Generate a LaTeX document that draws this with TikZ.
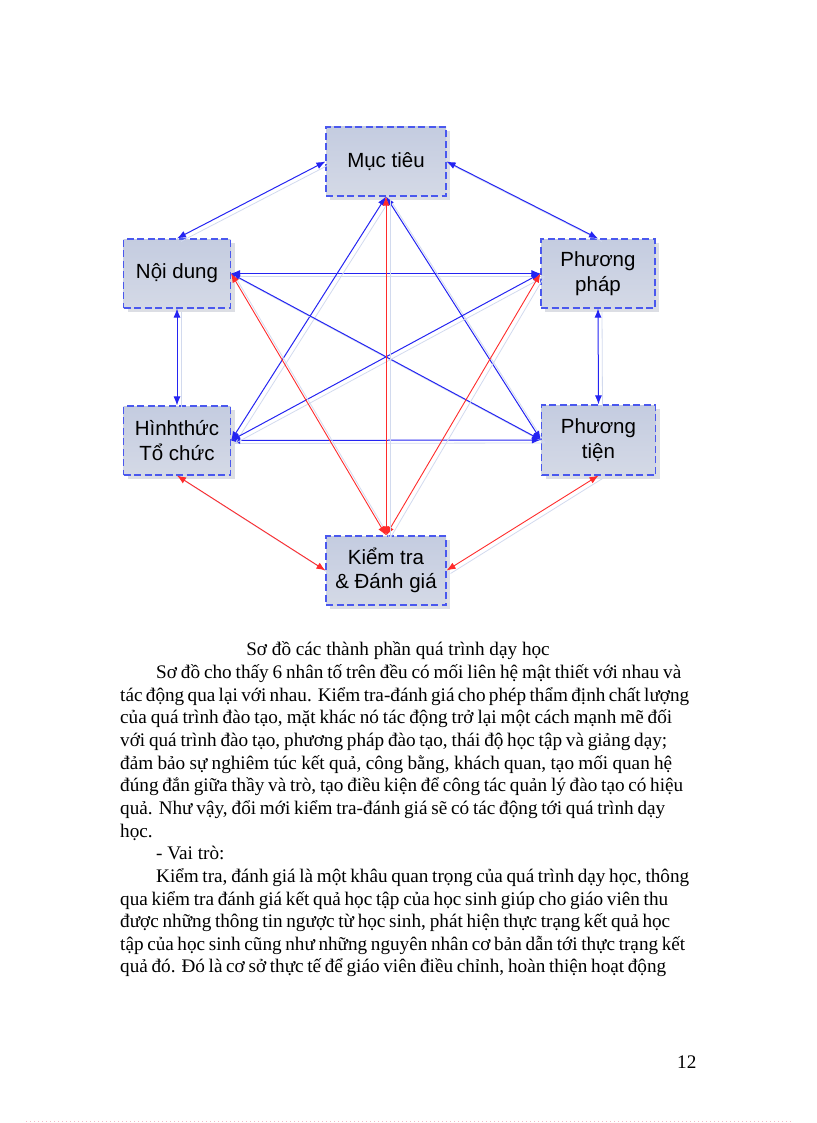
\documentclass[tikz,border=0pt]{standalone}
\usepackage{fontspec}
\setmainfont{Liberation Serif}
\newfontfamily\boxfont{Liberation Sans}
\usetikzlibrary{arrows.meta,calc,shadows}
\definecolor{lnblue}{HTML}{2424F2}
\definecolor{lnred}{HTML}{FF2B2B}
\definecolor{bxborder}{HTML}{4A58EE}
\definecolor{bxtop}{HTML}{C4CCE0}
\definecolor{bxbot}{HTML}{D4D9E6}
\definecolor{shadowc}{HTML}{DCDEE4}
\definecolor{lnshadow}{HTML}{D2DAEE}
\definecolor{dotc}{HTML}{F2B8C8}
\newcommand\lnk[3]{%
  \draw[lnshadowline] ([shift={(4,3)}]#2) -- ([shift={(4,3)}]#3);
  \draw[#1] (#2) -- (#3);}
\begin{document}
\begin{tikzpicture}[x=1pt,y=-1pt,
  box/.style={draw=bxborder, line width=1.1pt, dash pattern=on 7pt off 3.5pt,
    top color=bxtop, bottom color=bxbot, align=center, inner sep=0pt,
    font=\boxfont\fontsize{20.5}{24.5}\selectfont, text=black,
    drop shadow={shadow xshift=4pt, shadow yshift=-4pt, fill=shadowc, opacity=1}},
  arrb/.style={{Latex[length=9pt,width=7pt]}-{Latex[length=9pt,width=7pt]}, line width=1pt, draw=lnblue},
  arrr/.style={{Latex[length=9pt,width=7pt]}-{Latex[length=9pt,width=7pt]}, line width=0.9pt, draw=lnred},
  lnshadowline/.style={line width=0.8pt, draw=lnshadow},
  txt/.style={inner sep=0pt, font=\fontsize{19.2}{22.6}\selectfont, anchor=base west},
]
\useasboundingbox (0,0) rectangle (816,1123);

% boxes
\node[box, minimum width=120pt, minimum height=69pt] (mt) at (386,161.5) {Mục tiêu};
\node[box, minimum width=107pt, minimum height=69pt] (nd) at (177,273.5) {Nội dung};
\node[box, minimum width=114pt, minimum height=69pt] (pp) at (598,273.5) {Phương\\pháp};
\node[box, minimum width=107pt, minimum height=69pt] (ht) at (177,440.5) {Hìnhthức\\Tổ chức};
\node[box, minimum width=114pt, minimum height=70pt] (pt) at (598.5,440) {Phương\\tiện};
\node[box, minimum width=120pt, minimum height=69pt] (kt) at (386,570.5) {Kiểm tra\\\& Đánh giá};

% connectors
\lnk{arrb}{mt.west}{nd.north}
\lnk{arrb}{mt.east}{pp.north}
\lnk{arrb}{nd.east}{pp.west}
\lnk{arrb}{nd.south}{ht.north}
\lnk{arrb}{pp.south}{pt.north}
\lnk{arrb}{ht.east}{pt.west}
\lnk{arrb}{mt.south}{ht.east}
\lnk{arrb}{mt.south}{pt.west}
\lnk{arrb}{nd.east}{pt.west}
\lnk{arrb}{pp.west}{ht.east}
\lnk{arrr}{ht.south}{kt.west}
\lnk{arrr}{pt.south}{kt.east}
\lnk{arrr}{nd.east}{kt.north}
\lnk{arrr}{pp.west}{kt.north}
\lnk{arrr}{mt.south}{kt.north}

% caption and body text
\node[inner sep=0pt, font=\fontsize{19.2}{22.6}\selectfont, anchor=base] (cap) at (398,655.5) {Sơ đồ các thành phần quá trình dạy học};
\node[txt] (l1) at (156,678.5) {\makebox[525pt][s]{Sơ đồ cho thấy 6 nhân tố trên đều có mối liên hệ mật thiết với nhau và}};
\node[txt] (l2) at (120,701.15) {\makebox[569pt][s]{tác động qua lại với nhau. Kiểm tra-đánh giá cho phép thẩm định chất lượng}};
\node[txt] (l3) at (120,723.8) {\makebox[552pt][s]{của quá trình đào tạo, mặt khác nó tác động trở lại một cách mạnh mẽ đối}};
\node[txt] (l4) at (120,746.45) {\makebox[547pt][s]{với quá trình đào tạo, phương pháp đào tạo, thái độ học tập và giảng dạy;}};
\node[txt] (l5) at (120,769.1) {\makebox[552pt][s]{đảm bảo sự nghiêm túc kết quả, công bằng, khách quan, tạo mối quan hệ}};
\node[txt] (l6) at (120,791.75) {\makebox[563pt][s]{đúng đắn giữa thầy và trò, tạo điều kiện để công tác quản lý đào tạo có hiệu}};
\node[txt] (l7) at (120,814.4) {\makebox[545pt][s]{quả. Như vậy, đổi mới kiểm tra-đánh giá sẽ có tác động tới quá trình dạy}};
\node[txt] (l8) at (120,837.05) {học.};
\node[txt] (l9) at (156,859.7) {- Vai trò:};
\node[txt] (l10) at (156,882.35) {\makebox[533pt][s]{Kiểm tra, đánh giá là một khâu quan trọng của quá trình dạy học, thông}};
\node[txt] (l11) at (120,905) {\makebox[548pt][s]{qua kiểm tra đánh giá kết quả học tập của học sinh giúp cho giáo viên thu}};
\node[txt] (l12) at (120,927.65) {\makebox[550pt][s]{được những thông tin ngược từ học sinh, phát hiện thực trạng kết quả học}};
\node[txt] (l13) at (120,950.3) {\makebox[565pt][s]{tập của học sinh cũng như những nguyên nhân cơ bản dẫn tới thực trạng kết}};
\node[txt] (l14) at (120,972.95) {\makebox[546pt][s]{quả đó. Đó là cơ sở thực tế để giáo viên điều chỉnh, hoàn thiện hoạt động}};
\node[txt] (pg) at (677,1068) {12};

% page edge dotted line
\draw[dotc, line width=0.6pt, dash pattern=on 1pt off 3pt] (26,1121.5) -- (791,1121.5);
\end{tikzpicture}
\end{document}
